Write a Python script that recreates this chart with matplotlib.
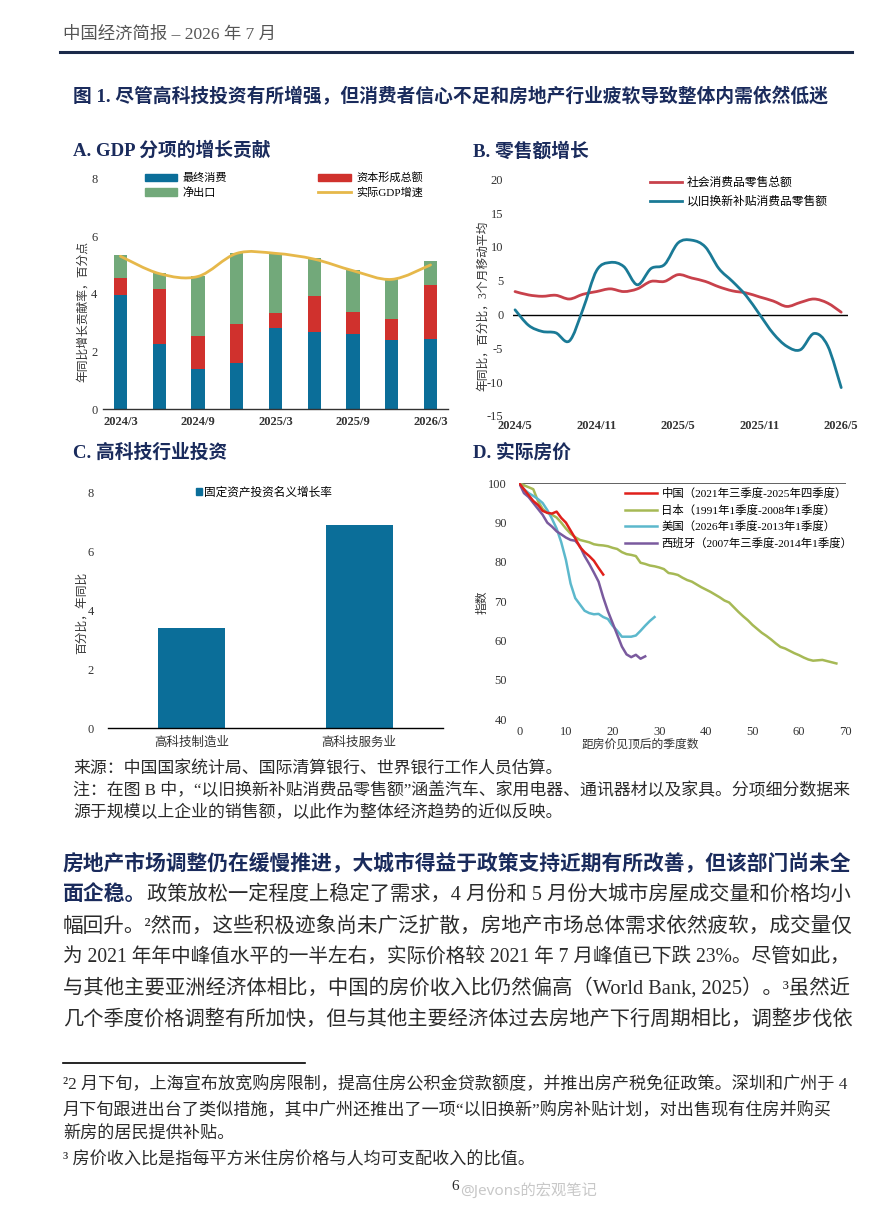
import numpy as np
import matplotlib.pyplot as plt
from matplotlib.path import Path
from matplotlib.patches import PathPatch, Patch
from matplotlib.lines import Line2D

plt.rcParams['font.family'] = ['Liberation Serif', 'Noto Sans CJK SC']
plt.rcParams['axes.unicode_minus'] = False

W, H = 888, 1212

# A. GDP 分项的增长贡献 (百分点)
gdp_quarters = ['2024/3', '2024/6', '2024/9', '2024/12', '2025/3',
                '2025/6', '2025/9', '2025/12', '2026/3']
final_consumption = [3.96, 2.26, 1.39, 1.59, 2.81, 2.67, 2.60, 2.40, 2.42]
capital_formation = [0.58, 1.91, 1.16, 1.35, 0.52, 1.26, 0.76, 0.72, 1.90]
net_exports = [0.81, 0.54, 2.07, 2.49, 2.10, 1.30, 1.47, 1.38, 0.80]
real_gdp = [5.3, 4.7, 4.6, 5.4, 5.4, 5.2, 4.8, 4.5, 5.0]

# B. 零售额增长, monthly 2024/5 - 2026/5
retail_ticks = ['2024/5', '2024/11', '2025/5', '2025/11', '2026/5']
retail_total = [3.4, 2.9, 2.7, 2.85, 2.3, 3.0, 3.4, 3.8, 3.4, 3.8, 4.9, 4.9, 5.9,
                5.4, 4.9, 4.1, 3.5, 3.2, 2.6, 2.0, 1.2, 1.8, 2.3, 1.7, 0.35]
trade_in = [0.7, -1.6, -2.5, -2.7, -3.9, 0.8, 6.5, 7.7, 7.1, 4.4, 6.8, 7.4, 10.6,
            11.0, 10.0, 6.8, 4.9, 2.8, 0.0, -2.8, -4.7, -5.2, -2.8, -4.6, -10.8]

# C. 高科技行业投资
hightech_sectors = ['高科技制造业', '高科技服务业']
hightech_growth = [3.4, 6.9]

# D. 实际房价 (峰值 = 100)
china_idx = [100, 98.5, 97, 95.5, 94.5, 93, 92.5, 92.3, 92.8, 91.2, 90, 88, 86,
             83.8, 82.5, 81.5, 80.3, 78.5, 76.8]
japan_idx = [100, 99.5, 99, 98.5, 95.5, 93.5, 92.5, 92, 91.3, 90, 88.5, 87.2, 86.3,
             85.6, 85.3, 85, 84.5, 84.3, 84.2, 84, 83.6, 83.3, 82.5, 82, 81.8, 81.5,
             79.8, 79.5, 79.1, 78.9, 78.6, 78.2, 77.2, 77, 76.7, 76, 75.4, 75, 74.3,
             73.6, 73, 72.4, 71.7, 71, 70.2, 69.7, 68.5, 67.3, 66.2, 65.2, 64, 63,
             62, 61.2, 60.3, 59.3, 58.4, 58, 57.4, 56.8, 56.3, 55.7, 55.2, 54.9, 55,
             55.1, 54.8, 54.5, 54.2]
us_idx = [100, 98.5, 97.5, 96.8, 96, 95, 93.2, 91, 88.5, 85, 80.5, 74.5, 70.8,
          69.2, 67.6, 67, 66.7, 66.8, 66, 65.5, 63.8, 62.5, 61, 61, 61, 61.3, 62.5,
          63.8, 65, 66]
spain_idx = [100, 97.5, 96.5, 95, 93.5, 92, 90, 89, 87.8, 87, 86.2, 85.6, 85.4, 84,
             81.5, 79.5, 77.3, 75, 71, 67.5, 64.5, 61.5, 58.5, 56.5, 55.8, 56.4,
             55.4, 56]

BLUE = '#0b6e99'
RED = '#d0312d'
GREEN = '#72a97a'
GOLD = '#e6b84a'
NAVY = '#1a2b5c'
TXT = '#2b2b2b'
RIGHT_EDGE = 853

fig = plt.figure(figsize=(W / 100, H / 100), dpi=100)


def axes_px(x0, y0, x1, y1):
    return fig.add_axes([x0 / W, 1 - y1 / H, (x1 - x0) / W, (y1 - y0) / H])


def ftext(x, y, s, **kw):
    kw.setdefault('va', 'center')
    return fig.text(x / W, 1 - y / H, s, **kw)


def fit_text(x, y, s, size, **kw):
    # shrink a line slightly if it would run past the text column
    t = ftext(x, y, s, fontsize=size, **kw)
    r = fig.canvas.get_renderer()
    ext = t.get_window_extent(r)
    if ext.x1 > RIGHT_EDGE:
        t.set_fontsize(size * (RIGHT_EDGE - x) / (ext.x1 - x))
    return t


def smooth(ax, x, y, color, lw, zorder=3):
    # Excel-style smoothed line (bezier through the data points)
    x = np.asarray(x, float)
    y = np.asarray(y, float)
    px = np.concatenate([[x[0]], x, [x[-1]]])
    py = np.concatenate([[y[0]], y, [y[-1]]])
    verts = [(x[0], y[0])]
    codes = [Path.MOVETO]
    for k in range(len(x) - 1):
        c1 = (px[k + 1] + (px[k + 2] - px[k]) / 6, py[k + 1] + (py[k + 2] - py[k]) / 6)
        c2 = (px[k + 2] - (px[k + 3] - px[k + 1]) / 6, py[k + 2] - (py[k + 3] - py[k + 1]) / 6)
        verts += [c1, c2, (x[k + 1], y[k + 1])]
        codes += [Path.CURVE4] * 3
    ax.add_patch(PathPatch(Path(verts, codes), fill=False, edgecolor=color, lw=lw,
                           capstyle='round', joinstyle='round', zorder=zorder))


def clean(ax, keep_bottom=False):
    for s in ['top', 'right', 'left', 'bottom']:
        ax.spines[s].set_visible(False)
    if keep_bottom:
        ax.spines['bottom'].set_visible(True)
        ax.spines['bottom'].set_color('#333333')
        ax.spines['bottom'].set_linewidth(1.0)
    ax.tick_params(length=0, colors='#333333', labelsize=9)
    ax.set_facecolor('none')


# ---- header ----
ftext(63, 35, '中国经济简报 – 2026 年 7 月', fontsize=12.5, color='#555555')
fig.add_artist(Line2D([60 / W, 852 / W], [1 - 52 / H] * 2, color='#1b2a4a', lw=2.2))
ftext(73, 97, '图 1. 尽管高科技投资有所增强，但消费者信心不足和房地产行业疲软导致整体内需依然低迷',
      fontsize=13.5, fontweight='bold', color=NAVY)

for x, y, s in [(73, 151, 'A. GDP 分项的增长贡献'), (473, 151, 'B. 零售额增长'),
                (73, 453, 'C. 高科技行业投资'), (473, 453, 'D. 实际房价')]:
    ftext(x, y, s, fontsize=13.5, fontweight='bold', color=NAVY)

# ---- A ----
axA = axes_px(103, 178.3, 448, 409.3)
xa = np.arange(len(gdp_quarters))
fc = np.array(final_consumption)
cf = np.array(capital_formation)
ne = np.array(net_exports)
axA.bar(xa, fc, 0.34, color=BLUE, zorder=2)
axA.bar(xa, cf, 0.34, bottom=fc, color=RED, zorder=2)
axA.bar(xa, ne, 0.34, bottom=fc + cf, color=GREEN, zorder=2)
smooth(axA, xa, real_gdp, GOLD, 2.0)
axA.set_xlim(-0.45, 8.45)
axA.set_ylim(0, 8)
axA.set_yticks([0, 2, 4, 6, 8])
axA.set_xticks(xa[::2])
axA.set_xticklabels(gdp_quarters[::2], fontweight='bold')
clean(axA, keep_bottom=True)
axA.tick_params(axis='y', pad=4)
axA.tick_params(axis='x', pad=5)
handles = [Patch(color=BLUE), Patch(color=GREEN), Patch(color=RED), Line2D([], [], color=GOLD, lw=2)]
labels = ['最终消费', '净出口', '资本形成总额', '实际GDP增速']
axA.legend(handles, labels, ncol=2, loc='upper left', bbox_to_anchor=(0.122, 1.025),
           frameon=False, fontsize=8, handlelength=2.9, handleheight=0.6,
           columnspacing=8.2, labelspacing=0.35, handletextpad=0.5,
           borderpad=0, borderaxespad=0)
ftext(83, 312, '年同比增长贡献率，百分点', fontsize=8.5, rotation=90, ha='center', color='#333333')

# ---- B ----
axB = axes_px(513, 179.3, 848, 416)
xb = np.arange(len(retail_total))
smooth(axB, xb, retail_total, '#c8414b', 2.0)
smooth(axB, xb, trade_in, '#1a7a96', 2.0)
axB.axhline(0, color='black', lw=1, zorder=1)
axB.set_xlim(-0.15, 24.5)
axB.set_ylim(-15, 20)
axB.set_yticks(range(-15, 21, 5))
axB.set_xticks(xb[::6])
axB.set_xticklabels(retail_ticks, fontweight='bold')
clean(axB)
axB.tick_params(axis='y', pad=7)
axB.tick_params(axis='x', pad=3)
axB.legend([Line2D([], [], color='#c8414b', lw=2), Line2D([], [], color='#1a7a96', lw=2)],
           ['社会消费品零售总额', '以旧换新补贴消费品零售额'], loc='upper left',
           bbox_to_anchor=(0.409, 1.011), frameon=False, fontsize=8.5, handlelength=2.7,
           handletextpad=0.43, labelspacing=0.6, borderpad=0, borderaxespad=0)
ftext(483, 306, '年同比，百分比，3个月移动平均', fontsize=8.5, rotation=90, ha='center', color='#333333')

# ---- C ----
axC = axes_px(108, 492.7, 443, 728.3)
xc = np.arange(len(hightech_sectors))
axC.bar(xc, hightech_growth, 0.4, color=BLUE, zorder=2)
axC.set_xlim(-0.5, 1.5)
axC.set_ylim(0, 8)
axC.set_yticks([0, 2, 4, 6, 8])
axC.set_xticks(xc)
axC.set_xticklabels(hightech_sectors, fontsize=8.5)
clean(axC, keep_bottom=True)
axC.spines['bottom'].set_color('black')
axC.tick_params(axis='y', pad=10)
axC.tick_params(axis='x', pad=6)
axC.legend([Patch(color=BLUE)], ['固定资产投资名义增长率'], loc='upper center',
           bbox_to_anchor=(0.466, 1.025), frameon=False, fontsize=8.4, handlelength=0.5,
           handleheight=0.5, handletextpad=0.15, borderpad=0, borderaxespad=0)
ftext(82, 613, '百分比，年同比', fontsize=8.5, rotation=90, ha='center', color='#333333')

# ---- D ----
axD = axes_px(519.3, 483.3, 845.7, 719.3)
axD.axhline(100, color='#555555', lw=1.3, zorder=1)
axD.plot(np.arange(len(japan_idx)), japan_idx, color='#a6b955', lw=1.8, zorder=2,
         label='日本（1991年1季度-2008年1季度）')
axD.plot(np.arange(len(us_idx)), us_idx, color='#5cb8cc', lw=1.8, zorder=3,
         label='美国（2026年1季度-2013年1季度）')
axD.plot(np.arange(len(spain_idx)), spain_idx, color='#7a5a9e', lw=1.8, zorder=4,
         label='西班牙（2007年三季度-2014年1季度）')
axD.plot(np.arange(len(china_idx)), china_idx, color='#e0201b', lw=1.8, zorder=5,
         label='中国（2021年三季度-2025年四季度）')
axD.set_xlim(0, 70)
axD.set_ylim(40, 100)
axD.set_xticks(range(0, 71, 10))
axD.set_yticks(range(40, 101, 10))
clean(axD)
axD.tick_params(axis='y', pad=9)
axD.tick_params(axis='x', pad=5)
h, l = axD.get_legend_handles_labels()
order = [3, 0, 1, 2]
axD.legend([h[i] for i in order], [l[i] for i in order], loc='upper left',
           bbox_to_anchor=(0.324, 0.981), frameon=False, fontsize=8.2, handlelength=2.8,
           handletextpad=0.4, labelspacing=0.49, borderpad=0, borderaxespad=0)
ftext(483, 602, '指数', fontsize=8.5, rotation=90, ha='center', color='#333333')
ftext(640, 745, '距房价见顶后的季度数', fontsize=8.5, ha='center', color='#333333')

# ---- notes ----
fig.canvas.draw()
fit_text(73, 770, '来源：中国国家统计局、国际清算银行、世界银行工作人员估算。', 12.2, color=TXT)
fit_text(73, 791, '注：在图 B 中，“以旧换新补贴消费品零售额”涵盖汽车、家用电器、通讯器材以及家具。分项细分数据来',
         12.2, color=TXT)
fit_text(73, 813, '源于规模以上企业的销售额，以此作为整体经济趋势的近似反映。', 12.2, color=TXT)

# ---- body paragraph ----
fit_text(63, 864, '房地产市场调整仍在缓慢推进，大城市得益于政策支持近期有所改善，但该部门尚未全',
         15, fontweight='bold', color=NAVY)
t = ftext(63, 895, '面企稳。', fontsize=15, fontweight='bold', color=NAVY)
x_end = t.get_window_extent(fig.canvas.get_renderer()).x1
fit_text(x_end, 895, '政策放松一定程度上稳定了需求，4 月份和 5 月份大城市房屋成交量和价格均小',
         15, color=TXT)
body = ['幅回升。²然而，这些积极迹象尚未广泛扩散，房地产市场总体需求依然疲软，成交量仅',
        '为 2021 年年中峰值水平的一半左右，实际价格较 2021 年 7 月峰值已下跌 23%。尽管如此，',
        '与其他主要亚洲经济体相比，中国的房价收入比仍然偏高（World Bank, 2025）。³虽然近',
        '几个季度价格调整有所加快，但与其他主要经济体过去房地产下行周期相比，调整步伐依']
for i, s in enumerate(body):
    fit_text(63, 927 + i * 31, s, 15, color=TXT)

# ---- footnotes ----
fig.add_artist(Line2D([63 / W, 305 / W], [1 - 1063 / H] * 2, color='black', lw=1.2))
foot = ['²2 月下旬，上海宣布放宽购房限制，提高住房公积金贷款额度，并推出房产税免征政策。深圳和广州于 4',
        '月下旬跟进出台了类似措施，其中广州还推出了一项“以旧换新”购房补贴计划，对出售现有住房并购买',
        '新房的居民提供补贴。',
        '³ 房价收入比是指每平方米住房价格与人均可支配收入的比值。']
for i, s in enumerate(foot):
    fit_text(63, 1084 + i * 25.5, s, 12.3, color=TXT)

ftext(455, 1187, '6', fontsize=11, color=TXT, ha='center')
ftext(460, 1191, '@Jevons的宏观笔记', fontsize=11, color='#c8c8c8',
      family=['Noto Sans', 'Noto Sans CJK SC'])

fig.savefig('out.png', dpi=100, facecolor='white')
